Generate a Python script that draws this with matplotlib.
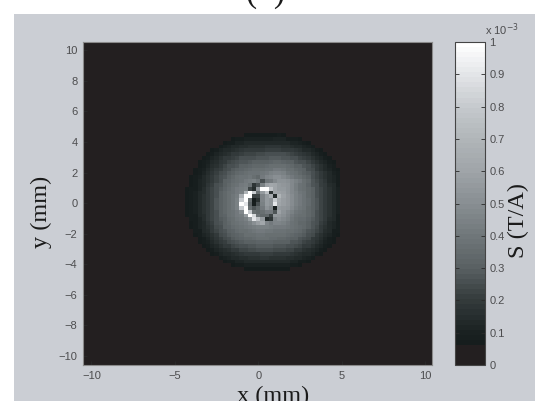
import numpy as np
import matplotlib
matplotlib.use("Agg")
import matplotlib.pyplot as plt
from matplotlib.colors import LinearSegmentedColormap
from matplotlib.patches import Rectangle

W, H = 535, 401
x_ticks = [-10, -5, 0, 5, 10]
y_ticks = [-10, -8, -6, -4, -2, 0, 2, 4, 6, 8, 10]
cbar_ticks = [0, .1, .2, .3, .4, .5, .6, .7, .8, .9, 1]
cbar_labels = ['0', '0.1', '0.2', '0.3', '0.4', '0.5', '0.6', '0.7', '0.8', '0.9', '1']
x_label = "x (mm)"
y_label = "y (mm)"
cbar_label = "S (T/A)"
top_label = "(  )"

# Sensitivity, in units of 1e-5 T/A; rows run from y=+4.5 to y=-4.5 mm
sensitivity = [
[0]*14 + [7,7,7,7,7,7,7,7,8,7] + [0]*13,
[0]*11 + [7,8,9,10,10,10,10,10,10,10,11,11,11,9,9,8,7] + [0]*9,
[0]*9 + [7,9,9,11,12,13,13,14,14,14,14,14,14,14,14,13,12,11,10,9,7] + [0]*7,
[0]*8 + [9,10,12,13,14,15,15,16,16,17,17,18,18,18,18,17,17,15,14,13,12,10,9] + [0]*6,
[0]*6 + [7,9,11,13,14,15,17,18,19,19,20,20,20,21,21,21,21,20,20,19,18,16,14,13,11,9,7] + [0]*4,
[0]*5 + [7,9,11,14,15,17,19,20,21,22,23,23,24,24,25,25,25,25,25,24,22,21,20,18,16,14,12,9,7] + [0]*3,
[0]*4 + [7,9,11,14,16,19,20,21,23,25,25,26,26,27,27,28,29,29,29,28,27,26,25,23,21,20,17,14,12,9,7] + [0]*2,
[0]*3 + [7,9,10,13,15,18,20,22,24,25,27,28,29,30,30,31,31,32,33,33,32,31,30,28,26,25,22,20,16,14,11,9,7,0],
[0]*3 + [7,9,12,15,17,20,22,25,26,28,30,31,32,33,34,34,35,36,37,37,36,35,33,31,30,27,25,22,19,16,13,10,8,0],
[0,0,7,9,10,14,16,19,21,24,26,29,31,32,34,35,36,36,37,38,39,41,41,40,37,36,34,32,30,26,24,20,17,14,11,9,7],
[0,0,7,9,12,15,18,21,24,26,29,31,34,35,37,38,38,38,40,42,44,46,46,44,40,38,36,34,31,29,25,22,19,16,13,10,8],
[0,7,9,10,13,16,20,22,25,28,31,34,36,38,39,40,36,33,41,46,48,50,50,48,44,41,38,36,33,30,26,23,20,17,14,11,9],
[0,7,9,11,14,17,20,23,26,30,32,35,37,39,41,43,44,40,26,40,42,48,52,53,51,48,44,41,37,33,27,24,21,18,14,12,9],
[0,7,9,12,14,18,21,25,28,31,34,37,39,42,43,38,18,26,44,58,62,60,56,54,52,47,43,39,36,32,28,25,21,19,15,13,9],
[7,8,9,12,15,19,22,25,29,32,35,38,41,43,45,22,15,52,100,100,75,60,56,55,52,47,43,39,37,33,30,26,22,19,16,13,10],
[7,9,10,13,15,19,23,26,30,33,36,39,42,45,70,100,80,36,55,75,18,60,58,57,53,48,44,40,38,34,30,26,23,20,16,14,10],
[7,9,10,13,16,20,23,26,31,33,37,40,43,65,100,100,22,22,46,56,65,13,70,58,54,49,44,41,38,34,31,26,23,20,16,14,10],
[7,9,10,13,16,20,23,27,31,34,37,40,44,80,100,36,7,17,46,56,52,80,62,57,54,49,44,41,38,35,31,27,23,20,17,14,10],
[7,9,10,13,16,20,23,27,31,34,37,40,44,100,90,32,9,25,44,56,52,90,60,57,54,49,44,41,38,35,31,27,23,20,17,14,10],
[7,9,10,13,16,20,23,27,31,33,37,40,44,80,100,36,27,34,42,52,48,9,56,54,52,48,43,40,38,34,31,27,23,20,16,14,10],
[7,9,10,13,16,20,23,26,30,33,37,39,42,48,100,80,36,34,36,42,41,27,58,52,48,44,40,38,36,34,30,26,23,20,16,13,10],
[7,8,9,13,15,19,22,26,30,32,36,38,41,43,55,100,85,38,33,33,23,56,54,50,46,42,38,37,36,33,30,26,22,19,16,13,9],
[0,8,9,12,15,19,22,25,29,31,35,37,40,42,44,55,90,75,56,13,18,46,50,48,44,40,37,35,35,32,29,25,22,19,15,13,9],
[0,7,9,11,14,18,21,25,28,31,34,37,38,40,42,45,50,57,62,46,41,46,46,45,42,39,36,34,34,31,28,25,21,18,14,12,9],
[0,7,9,11,14,17,20,24,26,30,32,35,37,38,40,42,43,45,45,45,43,42,41,41,40,39,37,35,33,30,27,24,20,17,14,11,9],
[0,0,8,9,13,15,19,22,25,28,31,32,35,37,37,39,40,41,41,40,40,39,39,38,37,37,35,33,31,28,25,22,19,15,13,9,8],
[0,0,7,9,11,14,17,20,24,26,29,31,32,34,36,37,37,38,38,37,37,37,37,36,35,34,32,31,29,26,24,20,17,14,11,9,7],
[0,0,0,7,9,12,15,18,21,24,26,29,31,32,33,34,35,36,36,36,35,35,34,34,32,31,30,28,25,24,20,18,15,12,9,7,0],
[0,0,0,7,9,10,13,16,19,21,24,25,28,29,30,31,31,32,32,32,32,31,31,31,30,28,27,25,23,21,19,16,13,10,9,7,0],
[0]*4 + [7,9,11,14,16,19,20,22,24,25,26,28,28,29,29,29,29,28,28,27,26,25,24,22,20,19,16,14,11,9,7,0,0],
[0]*5 + [7,9,11,14,15,17,19,20,22,23,24,24,25,25,25,25,24,24,24,23,22,20,19,17,15,14,11,9,7] + [0]*3,
[0]*6 + [7,9,11,13,14,15,17,18,19,20,20,20,21,21,21,20,20,20,19,18,17,15,14,13,11,9,7] + [0]*4,
[0]*8 + [9,10,12,13,14,15,15,16,17,17,18,18,17,17,17,16,15,15,14,13,12,10,9] + [0]*6,
[0]*9 + [7,9,9,11,12,13,13,14,14,14,14,14,14,14,13,13,12,11,9,9,7] + [0]*7,
[0]*11 + [7,8,9,10,10,10,10,10,10,10,10,10,10,10,9,8,7] + [0]*9,
[0]*14 + [7,7,7,7,7,7,7,7,7,7,7] + [0]*12,
[0]*37,
]
cmap_stops = [(0, '#231f20'), (.055, '#231f20'), (.06, '#151c1c'), (.1, '#1b2222'),
              (.2, '#353c3d'), (.3, '#5a6163'), (.4, '#70777a'), (.5, '#888e92'),
              (.6, '#9fa4a8'), (.7, '#b0b5b8'), (.8, '#c4c8cc'), (.9, '#e2e4e7'), (1, '#ffffff')]
cmap = LinearSegmentedColormap.from_list('bonelike', cmap_stops, N=64)
text_col = '#4d4d4f'
panel = '#cbced4'

fig = plt.figure(figsize=(W / 100, H / 100), dpi=100, facecolor='white')
fig.add_artist(Rectangle((14 / W, 0), 1 - 14 / W, 1 - 14 / H, transform=fig.transFigure,
                         facecolor=panel, edgecolor='none', zorder=-5))

def box(l, t, r, b):
    return [l / W, 1 - b / H, (r - l) / W, (b - t) / H]

ax = fig.add_axes(box(83, 42, 432, 365), facecolor='#231f20')
data = np.array(sensitivity, dtype=float) / 100
im = ax.imshow(data, cmap=cmap, vmin=0, vmax=1, interpolation='nearest', aspect='auto',
               extent=(-4.37, 4.88, -4.7, 4.55))
ax.set_xlim(-10.5, 10.4)
ax.set_ylim(-10.6, 10.55)
ax.set_xticks(x_ticks)
ax.set_yticks(y_ticks)
ax.tick_params(direction='in', length=3, width=.6, color='#2a2a2a', labelcolor=text_col,
               labelsize=8, pad=4)
for s in ax.spines.values():
    s.set_color('#8a8a8a')
    s.set_linewidth(.8)
for t in ax.get_xticklabels() + ax.get_yticklabels():
    t.set_family('Liberation Sans')

cax = fig.add_axes(box(455, 42, 485, 365))
cb = fig.colorbar(im, cax=cax)
cb.set_ticks(cbar_ticks)
cb.set_ticklabels(cbar_labels)
cax.tick_params(direction='in', length=3, width=.6, color='#2a2a2a', labelcolor=text_col,
                labelsize=8, pad=3, left=True, right=True)
for t in cax.get_yticklabels():
    t.set_family('Liberation Sans')
cb.outline.set_edgecolor('#444444')
cb.outline.set_linewidth(.8)

fig.text(485 / W, 1 - 35 / H, r'x 10$^{-3}$', fontsize=8, color=text_col, family='Liberation Sans',
         ha='left', va='baseline')

serif = dict(family='Liberation Serif', color='#1a1a1a', fontsize=17.5)
fig.text(273 / W, 1 - 402 / H, x_label, ha='center', va='baseline', **serif)
fig.text(41 / W, 1 - 212 / H, y_label, rotation=90, ha='center', va='center', **serif)
fig.text(518 / W, 1 - 221 / H, cbar_label, rotation=90, ha='center', va='center', **serif)
fig.text(266 / W, 1 - 2 / H, top_label, ha='center', va='baseline', family='Liberation Serif',
         color='#1a1a1a', fontsize=24)

fig.savefig('out.png', dpi=100, facecolor='white')
